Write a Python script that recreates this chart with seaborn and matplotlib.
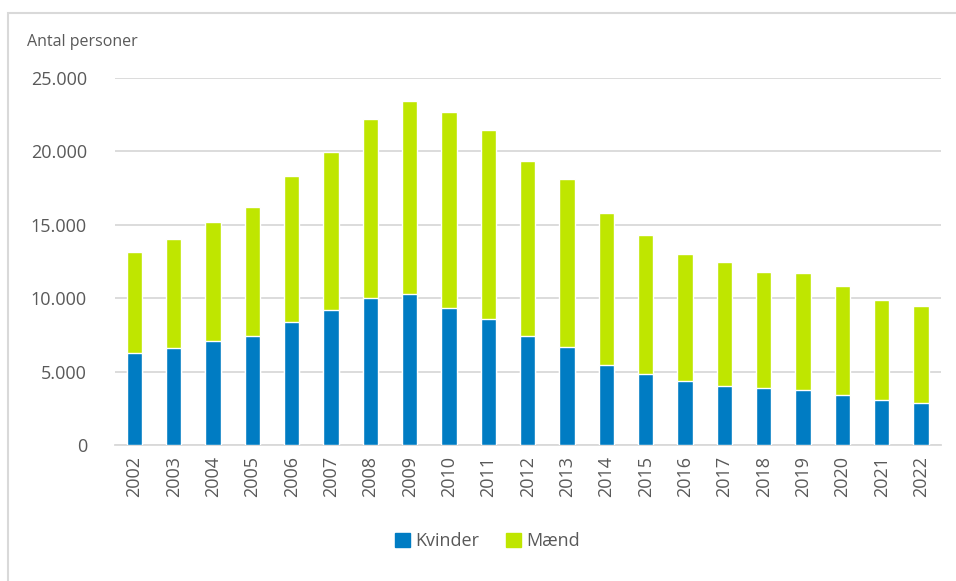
import matplotlib
matplotlib.use('Agg')
import matplotlib.pyplot as plt
import matplotlib.patches as mpatches
from matplotlib.ticker import FuncFormatter
import seaborn as sns
import pandas as pd

years = [str(y) for y in range(2002, 2023)]
kvinder = [6250, 6620, 7090, 7430, 8380, 9220, 10020, 10290, 9340, 8590,
           7420, 6690, 5420, 4870, 4390, 4030, 3910, 3730, 3410, 3050, 2840]
total = [13150, 14050, 15180, 16180, 18290, 19920, 22230, 23450, 22660, 21480,
         19340, 18110, 15830, 14290, 13010, 12490, 11810, 11690, 10810, 9850, 9440]
maend = [t - k for t, k in zip(total, kvinder)]

blue = '#007CC3'
green = '#BFE600'
grey_text = '#595959'

df = pd.DataFrame({'aar': years, 'Kvinder': kvinder, 'Mænd': maend})
df['total'] = df['Kvinder'] + df['Mænd']

sns.set_style('white')
plt.rcParams['font.family'] = ['Open Sans', 'DejaVu Sans']

fig = plt.figure(figsize=(9.56, 5.81), dpi=100)
ax = fig.add_axes([0.120, 0.234, 0.864, 0.632])

sns.barplot(data=df, x='aar', y='total', color=green, width=0.39,
            saturation=1, ax=ax, zorder=2)
sns.barplot(data=df, x='aar', y='Kvinder', color=blue, width=0.39,
            saturation=1, ax=ax, zorder=3)

ax.set_ylim(0, 25000)
ax.set_xlim(-0.5, len(years) - 0.5)
ax.set_yticks(range(0, 25001, 5000))
ax.yaxis.set_major_formatter(FuncFormatter(lambda v, p: f'{int(v):,}'.replace(',', '.')))
ax.grid(axis='y', color='#D9D9D9', linewidth=1.3, zorder=0)
ax.set_axisbelow(True)
for s in ['top', 'right', 'left']:
    ax.spines[s].set_visible(False)
ax.spines['bottom'].set_color('#D9D9D9')
ax.spines['bottom'].set_linewidth(1.3)
ax.tick_params(axis='both', length=0, labelsize=13, colors=grey_text)
ax.tick_params(axis='y', pad=20)
ax.tick_params(axis='x', pad=8)
plt.setp(ax.get_xticklabels(), rotation=90)
ax.set_xlabel('')
ax.set_ylabel('')

fig.text(27 / 956, 1 - 42 / 581, 'Antal personer', fontsize=11.5,
         color=grey_text, va='center', ha='left')

handles = [mpatches.Patch(color=blue, label='Kvinder'),
           mpatches.Patch(color=green, label='Mænd')]
fig.legend(handles=handles, loc='center', bbox_to_anchor=(0.51, 1 - 541 / 581),
           ncol=2, frameon=False, fontsize=13, handlelength=0.8,
           handleheight=0.8, handletextpad=0.3, columnspacing=1.5,
           labelcolor=grey_text)

# outer chart frame
fig.patches.append(mpatches.Rectangle((8 / 956, -0.1), 1.2, 1 - 13 / 581 + 0.1,
                                      transform=fig.transFigure, fill=False,
                                      edgecolor='#D9D9D9', linewidth=1.5))

fig.savefig('out.png', dpi=100)
